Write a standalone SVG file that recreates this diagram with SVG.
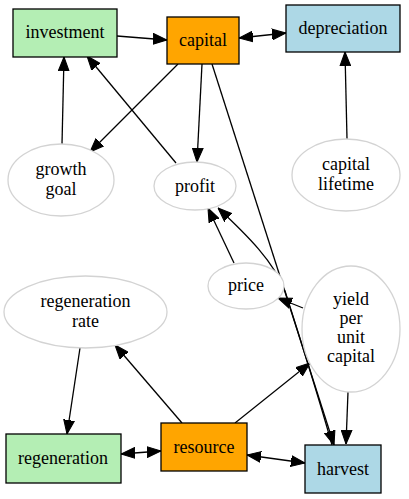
<svg xmlns="http://www.w3.org/2000/svg" width="409" height="499" viewBox="0 0 409 499">
<style>
text{font-family:"Liberation Serif","DejaVu Serif",serif;font-size:18px;text-anchor:middle;fill:#000}
.box{stroke:#000;stroke-width:1.3}
.ell{fill:#fff;stroke:#d3d3d3;stroke-width:1.3}
.e{fill:none;stroke:#000;stroke-width:1.3;marker-end:url(#ah)}
.b{marker-start:url(#ah)}
</style>
<defs>
<marker id="ah" markerUnits="userSpaceOnUse" markerWidth="14" markerHeight="12" refX="13" refY="5" orient="auto-start-reverse" viewBox="0 0 13 10">
<path d="M0,0L13,5L0,10Z" fill="#000" stroke="#000" stroke-width="1"/>
</marker>
</defs>
<rect width="409" height="499" fill="#fff"/>
<g id="connectors">
<path class="e" d="M117,36L167,40"/>
<path class="e b" d="M239,38L286,33"/>
<path class="e" d="M178,64L90,152"/>
<path class="e" d="M176,163L87,56"/>
<path class="e" d="M62,144L64,57"/>
<path class="e" d="M202,64L197,162"/>
<path class="e" d="M212,64L334,445"/>
<path class="e" d="M234,263L208,208"/>
<path class="e" d="M332,445C321,405 299,335 285,291C274,262 248,236 218,208"/>
<path class="e" d="M303,308L278,298"/>
<path class="e" d="M235,423L310,363"/>
<path class="e" d="M182,423L115,345"/>
<path class="e" d="M80,348L67,434"/>
<path class="e b" d="M121,454L161,451"/>
<path class="e b" d="M247,455L305,463"/>
<path class="e" d="M348,392L346,444"/>
<path class="e" d="M347,139L345,52"/>
</g>
<g id="investment"><rect class="box" x="13" y="9" width="104" height="48" fill="#b4eeb4"/><text x="65" y="38" font-family="Liberation Serif, serif">investment</text></g>
<g id="capital"><rect class="box" x="167" y="17" width="72" height="47" fill="#ffa500"/><text x="203" y="46">capital</text></g>
<g id="depreciation"><rect class="box" x="286" y="5" width="114" height="47" fill="#add8e6"/><text x="343" y="34">depreciation</text></g>
<g id="growth_goal"><ellipse class="ell" cx="61" cy="180" rx="53" ry="36"/><text x="61" y="175">growth</text><text x="61" y="195">goal</text></g>
<g id="profit"><ellipse class="ell" cx="195" cy="186" rx="41" ry="24"/><text x="195" y="192">profit</text></g>
<g id="capital_lifetime"><ellipse class="ell" cx="346" cy="175" rx="54" ry="36"/><text x="346" y="170">capital</text><text x="346" y="190">lifetime</text></g>
<g id="price"><ellipse class="ell" cx="246" cy="286" rx="38" ry="23"/><text x="246" y="291">price</text></g>
<g id="yield_per_unit_capital"><ellipse class="ell" cx="351" cy="329" rx="49" ry="63"/><text x="351" y="305">yield</text><text x="351" y="324">per</text><text x="351" y="343">unit</text><text x="351" y="362">capital</text></g>
<g id="regeneration_rate"><ellipse class="ell" cx="85.5" cy="312" rx="81.5" ry="36"/><text x="85.5" y="307">regeneration</text><text x="85.5" y="327">rate</text></g>
<g id="regeneration"><rect class="box" x="6" y="434" width="115" height="49" fill="#b4eeb4"/><text x="63" y="464">regeneration</text></g>
<g id="resource"><rect class="box" x="161" y="423" width="86" height="48" fill="#ffa500"/><text x="204" y="453">resource</text></g>
<g id="harvest"><rect class="box" x="305" y="445" width="76" height="48" fill="#add8e6"/><text x="343" y="475">harvest</text></g>
</svg>
